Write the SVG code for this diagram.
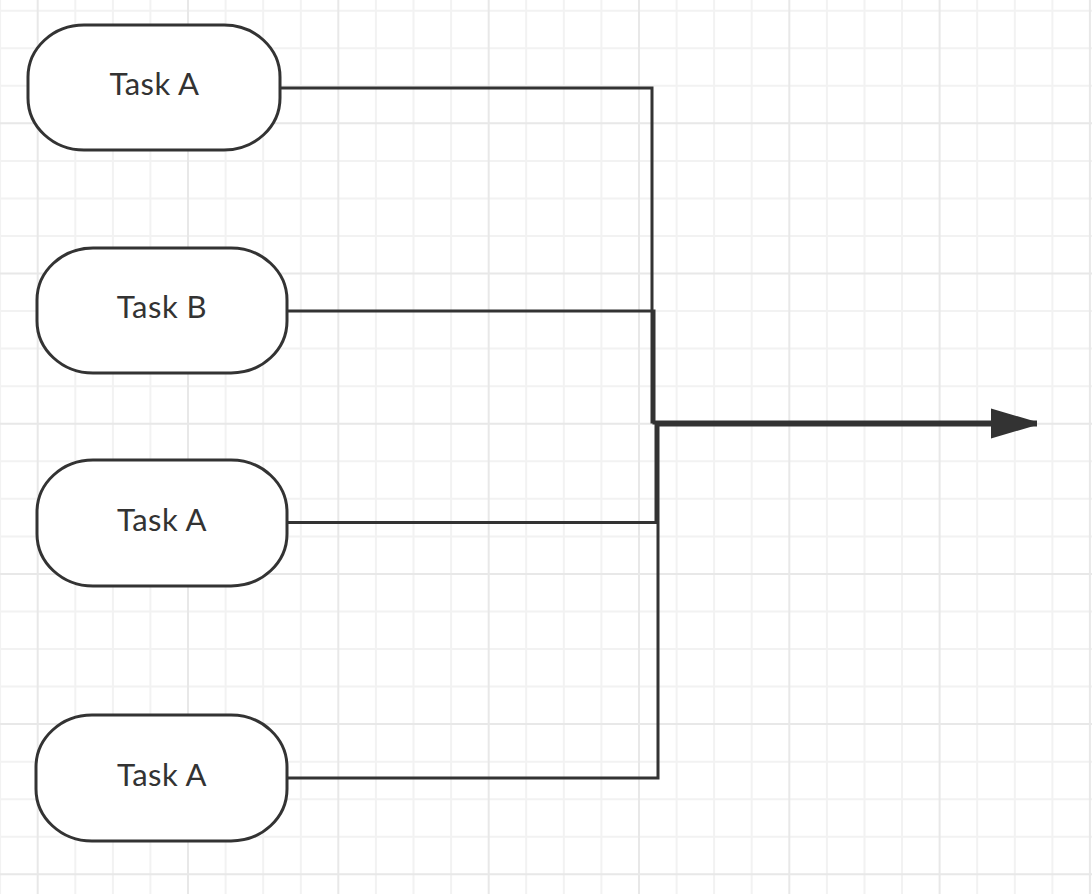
<svg xmlns="http://www.w3.org/2000/svg" width="1092" height="894" viewBox="0 0 1092 894">
<style>
.minor{stroke:#f2f2f2;stroke-width:2;fill:none}
.major{stroke:#e8e8e8;stroke-width:2;fill:none}
.node{fill:#ffffff;stroke:#333333;stroke-width:3}
.lbl{font-family:Lato,"Open Sans","Liberation Sans",sans-serif;font-size:31px;fill:#333333;text-anchor:middle;letter-spacing:0.5px}
.conn{fill:none;stroke:#333333;stroke-width:3}
</style>
<defs>
<marker id="arrow" markerUnits="userSpaceOnUse" markerWidth="48" markerHeight="30" refX="46" refY="14" orient="auto" viewBox="0 0 48 30">
<path d="M0,0.5 L46,14 L0,27.5 Z" fill="#333333"/>
</marker>
</defs>
<rect x="0" y="0" width="1092" height="894" fill="#ffffff"/>
<g id="grid">
<path class="minor" d="M0.1,0V894M75.3,0V894M112.9,0V894M150.4,0V894M225.6,0V894M263.2,0V894M300.8,0V894M375.9,0V894M413.5,0V894M451.1,0V894M526.2,0V894M563.8,0V894M601.4,0V894M676.6,0V894M714.1,0V894M751.7,0V894M826.9,0V894M864.5,0V894M902,0V894M977.2,0V894M1014.8,0V894M1052.4,0V894"/>
<path class="minor" d="M0,10.7H1092M0,48.2H1092M0,85.8H1092M0,160.9H1092M0,198.4H1092M0,236H1092M0,311.1H1092M0,348.6H1092M0,386.2H1092M0,461.3H1092M0,498.8H1092M0,536.4H1092M0,611.5H1092M0,649H1092M0,686.6H1092M0,761.7H1092M0,799.2H1092M0,836.8H1092"/>
<path class="major" d="M37.7,0V894M188,0V894M338.3,0V894M488.7,0V894M639,0V894M789.3,0V894M939.6,0V894M1089.9,0V894"/>
<path class="major" d="M0,123.3H1092M0,273.5H1092M0,423.7H1092M0,573.9H1092M0,724.1H1092M0,874.3H1092"/>
</g>
<g id="connectors">
<path class="conn" d="M281,88 H652 V422 H1037" marker-end="url(#arrow)"/>
<path class="conn" d="M288,311 H654 V423 H1037" marker-end="url(#arrow)"/>
<path class="conn" d="M288,522.5 H656 V424 H1037" marker-end="url(#arrow)"/>
<path class="conn" d="M288,778 H658 V425 H1037" marker-end="url(#arrow)"/>
</g>
<g id="node-task-a-1">
<rect class="node" x="28" y="25" width="252" height="125" rx="56" ry="52"/>
<text class="lbl" x="154.5" y="95">Task A</text>
</g>
<g id="node-task-b">
<rect class="node" x="37" y="248" width="250" height="125" rx="56" ry="52"/>
<text class="lbl" x="162" y="318">Task B</text>
</g>
<g id="node-task-a-2">
<rect class="node" x="37" y="460" width="250" height="126" rx="56" ry="52"/>
<text class="lbl" x="162" y="531">Task A</text>
</g>
<g id="node-task-a-3">
<rect class="node" x="36" y="715" width="251" height="126" rx="56" ry="52"/>
<text class="lbl" x="162" y="786">Task A</text>
</g>
</svg>
